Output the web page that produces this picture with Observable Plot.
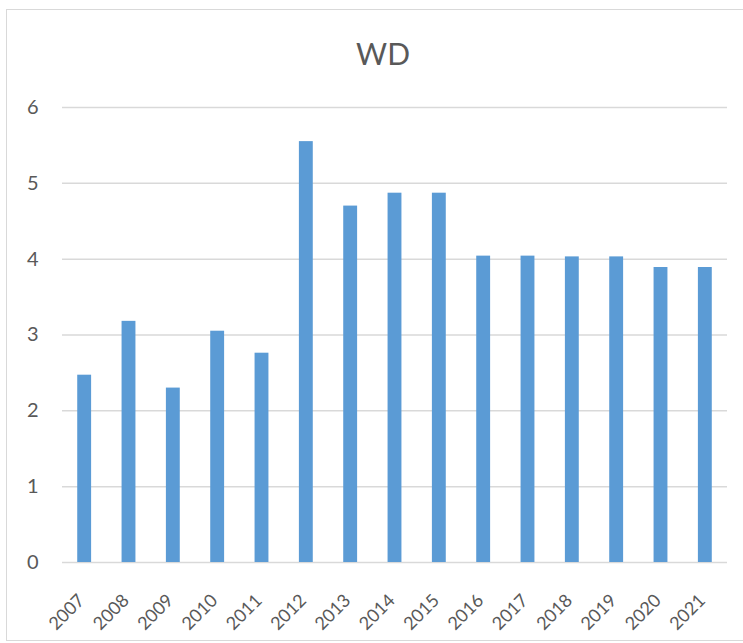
<!DOCTYPE html>
<html>
<head>
<meta charset="utf-8">
<script src="https://cdn.jsdelivr.net/npm/d3@7"></script>
<script src="https://cdn.jsdelivr.net/npm/@observablehq/plot@0.6"></script>
<style>
  html, body { margin: 0; padding: 0; background: #fff; }
  #wrap { position: relative; width: 743px; height: 643px; overflow: hidden; }
  #frame { position: absolute; left: 6px; top: 9px; width: 780px; height: 632px; border: 1px solid #d9d9d9; box-sizing: border-box; }
  #chart { position: absolute; left: 0; top: 0; }
</style>
</head>
<body>
<div id="wrap"><div id="frame"></div><div id="chart"></div></div>
<script>
const years = ["2007","2008","2009","2010","2011","2012","2013","2014","2015","2016","2017","2018","2019","2020","2021"];
const values = [2.47, 3.18, 2.30, 3.05, 2.76, 5.55, 4.70, 4.87, 4.87, 4.04, 4.04, 4.03, 4.03, 3.89, 3.89];
const yTicks = [0, 1, 2, 3, 4, 5, 6];
const title = "WD";

const data = years.map((y, i) => ({year: y, value: values[i]}));
const font = "Lato, 'Open Sans', sans-serif";
const ink = "#595959";

const chart = Plot.plot({
  width: 743,
  height: 643,
  marginLeft: 62,
  marginRight: 16,
  marginTop: 107,
  marginBottom: 81,
  style: {fontFamily: font, background: "transparent", color: ink},
  x: {domain: years, paddingInner: 0.687, paddingOuter: 0.3435, round: false, label: null},
  y: {domain: [0, 6], label: null},
  marks: [
    Plot.ruleY(yTicks, {stroke: "#d9d9d9", strokeWidth: 1.5}),
    Plot.barY(data, {x: "year", y: "value", fill: "#5b9bd5"}),
    Plot.axisY(yTicks, {tickSize: 0, tickPadding: 24, fontSize: 20, fill: ink, label: null, tickFormat: d => String(d)}),
    Plot.axisX({tickSize: 0, tickRotate: -45, tickPadding: 10, fontSize: 18, fill: ink, label: null, dy: 25, dx: -3}),
    Plot.text([title], {frameAnchor: "top", x: null, text: d => d, fontSize: 30, fill: ink, dy: -52, dx: -12, lineAnchor: "middle"})
  ]
});
document.getElementById("chart").appendChild(chart);
</script>
</body>
</html>
